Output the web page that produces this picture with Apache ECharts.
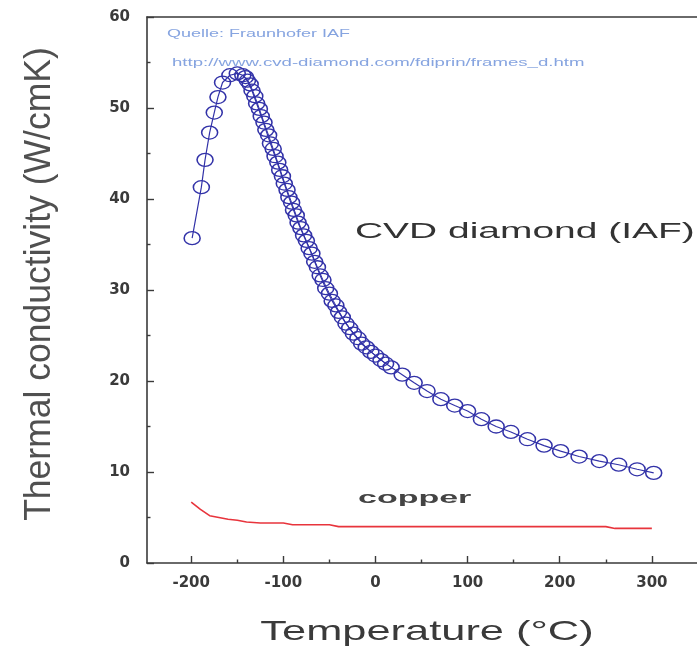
<!DOCTYPE html>
<html>
<head>
<meta charset="utf-8">
<script src="https://cdn.jsdelivr.net/npm/echarts@6/dist/echarts.min.js"></script>
<style>
html,body{margin:0;padding:0;background:#fff;}
#c{width:697px;height:660px;}
</style>
</head>
<body>
<div id="c"></div>
<script>
// ---- data ----
const diamondMain = [
  [-199,35.7],[-189,41.3],[-185,44.3],[-180,47.3],[-175,49.5],[-171,51.2],[-166,52.8],[-158,53.6],
  [-150,53.8],[-144,53.6],[-139,53.0],[-134,51.9],[-129,50.5],[-124,49.1],[-119,47.6],[-114,46.1],
  [-109,44.7],[-104,43.2],[-99,41.7],[-94,40.2],[-89,38.8],[-84,37.4],[-78,36.0],[-72,34.6],
  [-66,33.1],[-60,31.6],[-54,30.2],[-47,28.8],[-40,27.6],[-32,26.3],[-24,25.2],[-15,24.1],
  [-5,23.2],[6,22.3],[17,21.5],[29,20.7],[42,19.8],[56,18.9],[71,18.0],[86,17.3],
  [100,16.7],[115,15.8],[131,15.0],[147,14.4],[165,13.6],[183,12.9],[201,12.3],[221,11.7],
  [243,11.2],[264,10.8],[284,10.3],[302,9.9]
];
const diamondSecond = [
  [-141,53.4],[-136,52.6],[-131,51.3],[-126,49.9],[-121,48.4],[-116,47.0],[-111,45.5],[-106,44.0],
  [-101,42.5],[-96,41.0],[-91,39.6],[-86,38.2],[-81,36.8],[-75,35.4],[-69,34.0],[-63,32.5],
  [-57,31.1],[-50,29.6],[-43,28.3],[-36,27.0],[-28,25.8],[-19,24.7],[-10,23.7],[0,22.8],[11,21.9]
];
const copper = [
  [-200,6.7],[-190,5.9],[-180,5.2],[-170,5.0],[-160,4.8],[-150,4.7],[-140,4.5],[-125,4.4],
  [-100,4.4],[-90,4.2],[-50,4.2],[-40,4.0],[250,4.0],[260,3.8],[300,3.8]
];
const xMajorTicks = [-200,-100,0,100,200,300];
const xMinorTicks = [-150,-50,50,150,250];
const yRange = [0,60];
const xRange = [-248,349];

// ---- chart ----
const chart = echarts.init(document.getElementById('c'), null, {renderer:'canvas'});
const axisColor = '#3a3a3a';
const blue = '#3232a8';
const tickFont = {fontFamily:'DejaVu Sans', fontWeight:'bold', fontSize:15, color:'#3a3a3a'};

const option = {
  animation:false,
  backgroundColor:'#ffffff',
  grid:{left:147, top:17, right:0, bottom:97, containLabel:false, outerBoundsMode:'none'},
  xAxis:[
    {
      type:'value', min:xRange[0], max:xRange[1], position:'bottom',
      axisLine:{show:true, onZero:false, lineStyle:{color:axisColor, width:1.6}},
      axisTick:{show:true, inside:true, length:7, customValues:xMajorTicks, lineStyle:{color:axisColor, width:1.4}},
      axisLabel:Object.assign({show:true, customValues:xMajorTicks, margin:13}, tickFont),
      splitLine:{show:false}
    },
    {
      type:'value', min:xRange[0], max:xRange[1], position:'bottom',
      axisLine:{show:false, onZero:false},
      axisTick:{show:true, inside:true, length:3.5, customValues:xMinorTicks, lineStyle:{color:axisColor, width:1.4}},
      axisLabel:{show:false},
      splitLine:{show:false}
    },
    {
      type:'value', min:xRange[0], max:xRange[1], position:'top',
      axisLine:{show:true, onZero:false, lineStyle:{color:axisColor, width:1.6}},
      axisTick:{show:false}, axisLabel:{show:false}, splitLine:{show:false}
    }
  ],
  yAxis:{
    type:'value', min:yRange[0], max:yRange[1], interval:10,
    axisLine:{show:true, onZero:false, lineStyle:{color:axisColor, width:1.6}},
    axisTick:{show:true, inside:true, length:7, lineStyle:{color:axisColor, width:1.4}},
    minorTick:{show:true, splitNumber:2, length:3.5, lineStyle:{color:axisColor, width:1.4}},
    axisLabel:Object.assign({margin:17}, tickFont),
    splitLine:{show:false}, minorSplitLine:{show:false}
  },
  series:[
    {
      name:'CVD diamond (IAF)', type:'line', xAxisIndex:0, data:diamondMain,
      symbol:'circle', symbolSize:[16,13],
      itemStyle:{color:'rgba(255,255,255,0)', borderColor:blue, borderWidth:1.4},
      lineStyle:{color:blue, width:1.2}, z:3
    },
    {
      name:'CVD diamond (IAF) 2', type:'line', xAxisIndex:0, data:diamondSecond,
      symbol:'circle', symbolSize:[16,13],
      itemStyle:{color:'rgba(255,255,255,0)', borderColor:blue, borderWidth:1.4},
      lineStyle:{color:blue, width:1.0}, z:3
    },
    {
      name:'copper', type:'line', xAxisIndex:0, data:copper,
      symbol:'none', lineStyle:{color:'#e8343c', width:1.6}, z:2
    }
  ],
  graphic:[
    {type:'text', x:167, y:34, scaleX:1.8,
      style:{text:'Quelle: Fraunhofer IAF', fontSize:10, fontFamily:'Liberation Sans', fill:'#86a4e0', textAlign:'left', textVerticalAlign:'middle'}},
    {type:'text', x:172, y:63, scaleX:1.86,
      style:{text:'http://www.cvd-diamond.com/fdiprin/frames_d.htm', fontSize:10, fontFamily:'Liberation Sans', fill:'#86a4e0', textAlign:'left', textVerticalAlign:'middle'}},
    {type:'text', x:355, y:232, scaleX:1.77,
      style:{text:'CVD diamond (IAF)', fontSize:22, fontFamily:'Liberation Sans', fill:'#333', textAlign:'left', textVerticalAlign:'middle'}},
    {type:'text', x:358, y:498, scaleX:2.0,
      style:{text:'copper', fontSize:17, fontWeight:'bold', fontFamily:'Liberation Sans', fill:'#444', textAlign:'left', textVerticalAlign:'middle'}},
    {type:'text', x:427, y:632, scaleX:1.55,
      style:{text:'Temperature (°C)', fontSize:28, fontFamily:'Liberation Sans', fill:'#3a3a3a', textAlign:'center', textVerticalAlign:'middle'}},
    {type:'text', x:40, y:284, rotation:Math.PI/2, scaleX:0.96,
      style:{text:'Thermal conductivity (W/cmK)', fontSize:37, fontFamily:'Liberation Sans', fill:'#505050', textAlign:'center', textVerticalAlign:'middle'}}
  ]
};
chart.setOption(option);
</script>
</body>
</html>
